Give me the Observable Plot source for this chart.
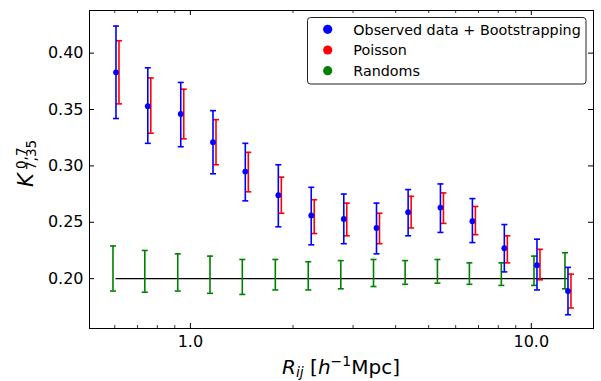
<!DOCTYPE html>
<html><head><meta charset="utf-8">
<script src="https://cdn.jsdelivr.net/npm/d3@7"></script>
<script src="https://cdn.jsdelivr.net/npm/@observablehq/plot@0.6"></script>
<style>body{margin:0;background:#fff} svg{display:block}</style>
</head><body><div id="chart"></div>
<script>
// ---- data ----
const radius  = [0.605, 0.750, 0.937, 1.165, 1.449, 1.811, 2.262, 2.818, 3.515, 4.352, 5.413, 6.717, 8.334, 10.39, 12.81];
const kValue  = [0.383, 0.353, 0.346, 0.321, 0.295, 0.274, 0.256, 0.253, 0.245, 0.259, 0.263, 0.251, 0.227, 0.212, 0.189];
const bootLo  = [0.342, 0.320, 0.317, 0.293, 0.269, 0.246, 0.230, 0.231, 0.222, 0.238, 0.241, 0.232, 0.206, 0.190, 0.168];
const bootHi  = [0.424, 0.387, 0.374, 0.349, 0.320, 0.301, 0.281, 0.275, 0.267, 0.279, 0.284, 0.271, 0.248, 0.235, 0.210];
const poisLo  = [0.355, 0.329, 0.324, 0.301, 0.277, 0.258, 0.240, 0.238, 0.231, 0.245, 0.249, 0.239, 0.214, 0.199, 0.174];
const poisHi  = [0.411, 0.378, 0.368, 0.341, 0.312, 0.290, 0.270, 0.267, 0.258, 0.273, 0.276, 0.264, 0.238, 0.226, 0.204];
const randLo  = [0.189, 0.188, 0.189, 0.187, 0.186, 0.190, 0.190, 0.191, 0.193, 0.195, 0.196, 0.195, 0.194, 0.194, 0.191];
const randHi  = [0.229, 0.225, 0.222, 0.220, 0.217, 0.217, 0.215, 0.216, 0.217, 0.216, 0.217, 0.214, 0.214, 0.220, 0.223];
const baseline = 0.20;
const xMajorTicks = [1, 10];
const xMinorTicks = [0.6, 0.7, 0.8, 0.9, 2, 3, 4, 5, 6, 7, 8, 9];
const yTicks = [0.20, 0.25, 0.30, 0.35, 0.40];
const legendLabels = ["Observed data + Bootstrapping", "Poisson", "Randoms"];
const legendColors = ["#0000ff", "#ff0000", "#008000"];

const data = radius.map((r, i) => ({r, k: kValue[i], bLo: bootLo[i], bHi: bootHi[i], pLo: poisLo[i], pHi: poisHi[i], gLo: randLo[i], gHi: randHi[i]}));

const W = 601, H = 381, mL = 89, mR = 8, mT = 10, mB = 53;
const iw = W - mL - mR, ih = H - mT - mB;
const cap = {draw(ctx, size) { const w = Math.sqrt(size / Math.PI); ctx.moveTo(-w, 0); ctx.lineTo(w, 0); }};
const [BLUE, RED, GREEN] = legendColors;

function errorBars(lo, hi, color, dx) {
  return [
    Plot.ruleX(data, {x: "r", y1: lo, y2: hi, stroke: color, strokeWidth: 1.6, dx}),
    Plot.dot(data, {x: "r", y: lo, symbol: cap, r: 3, stroke: color, fill: "none", strokeWidth: 1.6, dx}),
    Plot.dot(data, {x: "r", y: hi, symbol: cap, r: 3, stroke: color, fill: "none", strokeWidth: 1.6, dx})
  ];
}

const svg = Plot.plot({
  width: W, height: H, marginLeft: mL, marginRight: mR, marginTop: mT, marginBottom: mB,
  style: {fontFamily: "DejaVu Sans", fontSize: "16px", background: "white", color: "black"},
  x: {type: "log", domain: [0.5059, 15.22], label: null},
  y: {domain: [0.1558, 0.4378], label: null},
  marks: [
    Plot.ruleY([baseline], {x1: radius[0], x2: radius[radius.length - 1], stroke: "black", strokeWidth: 1.3}),
    ...errorBars("gLo", "gHi", GREEN, -3),
    ...errorBars("pLo", "pHi", RED, 3),
    ...errorBars("bLo", "bHi", BLUE, 0),
    Plot.dot(data, {x: "r", y: "k", r: 2.9, fill: BLUE, stroke: "none"}),
    Plot.frame({stroke: "black", strokeWidth: 1}),
    // inward ticks
    Plot.ruleX(xMajorTicks, {x: d => d, insetTop: ih - 5, stroke: "black"}),
    Plot.ruleX(xMajorTicks, {x: d => d, insetBottom: ih - 5, stroke: "black"}),
    Plot.ruleX(xMinorTicks, {x: d => d, insetTop: ih - 3, stroke: "black", strokeWidth: 0.8}),
    Plot.ruleX(xMinorTicks, {x: d => d, insetBottom: ih - 3, stroke: "black", strokeWidth: 0.8}),
    Plot.ruleY(yTicks, {y: d => d, insetRight: iw - 5, stroke: "black"}),
    Plot.ruleY(yTicks, {y: d => d, insetLeft: iw - 5, stroke: "black"}),
    Plot.axisX({ticks: xMajorTicks, tickFormat: d => d.toFixed(1), tickSize: 0, tickPadding: 7, fontSize: 16, label: null}),
    Plot.axisY({ticks: yTicks, tickFormat: d => d.toFixed(2), tickSize: 0, tickPadding: 6, fontSize: 16, label: null})
  ]
});

const s = d3.select(svg);
// x axis label
const xl = s.append("text").attr("x", mL + iw / 2).attr("y", 374).attr("text-anchor", "middle")
  .attr("font-family", "DejaVu Sans").attr("font-size", 20).attr("fill", "black");
xl.append("tspan").attr("font-style", "italic").text("R");
xl.append("tspan").attr("font-style", "italic").attr("font-size", 14).attr("dy", 3).text("ij");
xl.append("tspan").attr("dy", -3).text(" [");
xl.append("tspan").attr("font-style", "italic").text("h");
xl.append("tspan").attr("font-size", 14).attr("dy", -8).text("\u22121");
xl.append("tspan").attr("dy", 8).text("Mpc]");

// y axis label (rotated, reading bottom to top)
const rot = "translate(33,187) rotate(-90)";
const ylParts = [
  {t: "K", x: 0, y: 0, size: 21, italic: true},
  {t: "0,7", x: 18, y: -7, size: 13.5, italic: false},
  {t: "7,35", x: 17, y: 2.5, size: 13.5, italic: false}
];
ylParts.forEach(p => {
  s.append("text").attr("transform", rot).attr("x", p.x).attr("y", p.y)
    .attr("text-anchor", "start").attr("font-family", "DejaVu Sans").attr("fill", "black")
    .attr("font-size", p.size).attr("font-style", p.italic ? "italic" : "normal").text(p.t);
});

// legend
const lg = s.append("g").attr("font-family", "DejaVu Sans").attr("text-anchor", "start");
lg.append("rect").attr("x", 307.5).attr("y", 17.5).attr("width", 278.5).attr("height", 66.5).attr("rx", 3)
  .attr("fill", "white").attr("stroke", "#222").attr("stroke-width", 1);
legendLabels.forEach((lab, i) => {
  const cy = 29.3 + i * 20.7;
  lg.append("circle").attr("cx", 327.7).attr("cy", cy).attr("r", 4.6).attr("fill", legendColors[i]);
  lg.append("text").attr("x", 353.3).attr("y", cy + 5.3).attr("font-size", 14.3).attr("fill", "black").text(lab);
});

document.getElementById("chart").appendChild(svg);
</script>
</body></html>
